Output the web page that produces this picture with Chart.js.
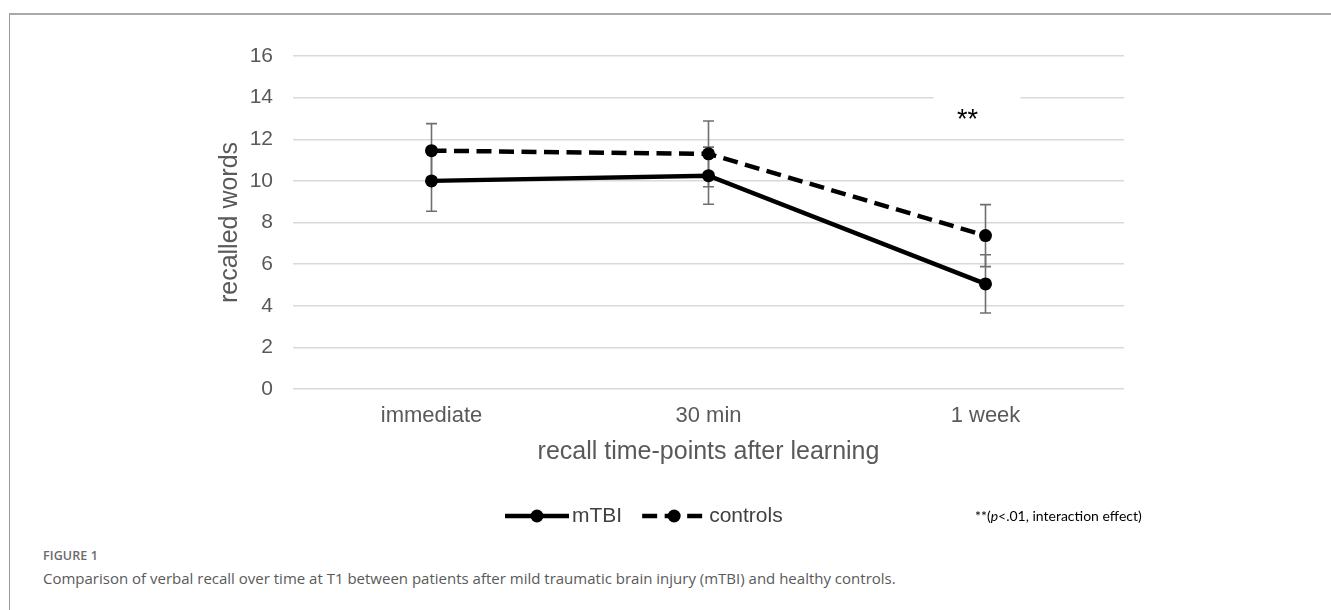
<!DOCTYPE html>
<html>
<head>
<meta charset="utf-8">
<script src="https://cdn.jsdelivr.net/npm/chart.js@4/dist/chart.umd.min.js"></script>
<style>
  html, body { margin: 0; padding: 0; background: #fff; }
  body { width: 1331px; height: 610px; position: relative; overflow: hidden; }
  #frame {
    position: absolute; left: 9px; top: 13px; width: 1322px; height: 597px;
    border-top: 2px solid #a9a9a9; border-left: 1px solid #9a9a9a; box-sizing: border-box;
  }
  #wrap { position: absolute; left: 0; top: 0; width: 1331px; height: 540px; }
  .fig-label {
    position: absolute; left: 43px; top: 547px; margin: 0;
    font-family: "Open Sans", "Noto Sans", sans-serif; font-weight: 600;
    font-size: 12.5px; color: #6a6a6a; letter-spacing: 0.1px;
  }
  .fig-caption {
    position: absolute; left: 43px; top: 568px; margin: 0;
    font-family: "Open Sans", "Noto Sans", sans-serif; font-weight: 400;
    font-size: 15px; color: #5a5a5a;
  }
</style>
</head>
<body>
<div id="frame"></div>
<div id="wrap"><canvas id="chart" width="1331" height="540"></canvas></div>
<p class="fig-label">FIGURE 1</p>
<p class="fig-caption">Comparison of verbal recall over time at T1 between patients after mild traumatic brain injury (mTBI) and healthy controls.</p>
<script>
// Recall time points (x categories)
const categories = ['immediate', '30 min', '1 week'];

// Mean recalled words and error bar half-widths per group
const mtbiMeans = [10.0, 10.25, 5.05];
const mtbiErrors = [1.46, 1.37, 1.40];
const controlMeans = [11.45, 11.3, 7.37];
const controlErrors = [1.30, 1.58, 1.49];

// Y axis range and step
const yMin = 0;
const yMax = 16;
const yStep = 2;

// Significance marker shown above the last time point
const sigMark = '**';
const sigMarkValue = 13.3;
const sigIndex = 2;

const AXIS_FONT = '"Liberation Sans", Arial, sans-serif';
const AXIS_GREY = '#595959';

// Vertical error bars with caps, drawn under the lines and markers
const errorBars = {
  id: 'errorBars',
  beforeDatasetsDraw(chart) {
    const ctx = chart.ctx;
    const y = chart.scales.y;
    ctx.save();
    ctx.strokeStyle = '#6f6f6f';
    ctx.lineWidth = 1.6;
    chart.data.datasets.forEach((ds, di) => {
      const meta = chart.getDatasetMeta(di);
      meta.data.forEach((pt, i) => {
        const m = ds.data[i];
        const e = ds.errors[i];
        const top = y.getPixelForValue(m + e);
        const bot = y.getPixelForValue(m - e);
        const x = pt.x;
        ctx.beginPath();
        ctx.moveTo(x, top); ctx.lineTo(x, bot);
        ctx.moveTo(x - 5.5, top); ctx.lineTo(x + 5.5, top);
        ctx.moveTo(x - 5.5, bot); ctx.lineTo(x + 5.5, bot);
        ctx.stroke();
      });
    });
    ctx.restore();
  }
};

// "**" text box over the grid near the last time point
const sigLabel = {
  id: 'sigLabel',
  beforeDatasetsDraw(chart) {
    const ctx = chart.ctx;
    const x = chart.scales.x.getPixelForValue(sigIndex) - 18;
    const yy = chart.scales.y.getPixelForValue(sigMarkValue);
    ctx.save();
    ctx.fillStyle = '#fff';
    ctx.fillRect(x - 34, yy - 22, 87, 40);
    ctx.fillStyle = '#000';
    ctx.font = '27px ' + AXIS_FONT;
    ctx.textAlign = 'center';
    ctx.textBaseline = 'alphabetic';
    ctx.fillText(sigMark, x, yy + 15.5);
    ctx.restore();
  }
};

// Legend with line samples and a centered marker, plus the note on significance
const lineLegend = {
  id: 'lineLegend',
  afterDraw(chart) {
    const ctx = chart.ctx;
    const cy = 516;
    let x = 505;
    ctx.save();
    chart.data.datasets.forEach((ds) => {
      const w = 64;
      ctx.strokeStyle = ds.borderColor;
      ctx.lineWidth = ds.borderWidth;
      ctx.setLineDash(ds.borderDash || []);
      ctx.lineDashOffset = 0;
      ctx.beginPath();
      ctx.moveTo(x, cy); ctx.lineTo(x + w, cy);
      ctx.stroke();
      ctx.setLineDash([]);
      ctx.fillStyle = ds.pointBackgroundColor;
      ctx.beginPath();
      ctx.arc(x + w / 2, cy, ds.pointRadius, 0, Math.PI * 2);
      ctx.fill();
      ctx.fillStyle = '#404040';
      ctx.font = '21px ' + AXIS_FONT;
      ctx.textAlign = 'left';
      ctx.textBaseline = 'middle';
      ctx.fillText(ds.label, x + w + 3, cy);
      x += w + 3 + ctx.measureText(ds.label).width + 20;
    });
    // note: **(p<.01, interaction effect)
    const parts = [
      { t: '**(', f: '14px Lato, "Noto Sans", sans-serif' },
      { t: 'p', f: 'italic 14px Lato, "Noto Sans", sans-serif' },
      { t: '<.01, interaction effect)', f: '14px Lato, "Noto Sans", sans-serif' }
    ];
    let nx = 975;
    ctx.fillStyle = '#000';
    ctx.textBaseline = 'middle';
    parts.forEach(p => {
      ctx.font = p.f;
      ctx.fillText(p.t, nx, cy);
      nx += ctx.measureText(p.t).width;
    });
    ctx.restore();
  }
};

new Chart(document.getElementById('chart'), {
  type: 'line',
  data: {
    labels: categories,
    datasets: [
      {
        label: 'mTBI',
        data: mtbiMeans,
        errors: mtbiErrors,
        borderColor: '#000',
        borderWidth: 4.5,
        pointRadius: 6.5,
        pointBackgroundColor: '#000',
        pointBorderWidth: 0,
        tension: 0,
        order: 2
      },
      {
        label: 'controls',
        data: controlMeans,
        errors: controlErrors,
        borderColor: '#000',
        borderWidth: 4.5,
        borderDash: [15, 7.5],
        pointRadius: 6.5,
        pointBackgroundColor: '#000',
        pointBorderWidth: 0,
        tension: 0,
        order: 1
      }
    ]
  },
  options: {
    responsive: false,
    animation: false,
    devicePixelRatio: 1,
    layout: { padding: { left: 190, right: 207, top: 56, bottom: 71 } },
    plugins: {
      legend: { display: false },
      tooltip: { enabled: false }
    },
    scales: {
      x: {
        offset: true,
        grid: { display: false, drawTicks: false },
        border: { display: false },
        ticks: { color: AXIS_GREY, font: { family: AXIS_FONT, size: 22 }, padding: 14 },
        title: {
          display: true, text: 'recall time-points after learning',
          color: AXIS_GREY, font: { family: AXIS_FONT, size: 25 }, padding: { top: 4, bottom: 2 }
        },
        afterFit(s) { s.height = 80; }
      },
      y: {
        min: yMin, max: yMax,
        grid: { color: '#d9d9d9', lineWidth: 1.5, drawTicks: false },
        border: { display: false },
        ticks: { stepSize: yStep, color: AXIS_GREY, font: { family: AXIS_FONT, size: 21 }, padding: 20 },
        title: {
          display: true, text: 'recalled words',
          color: AXIS_GREY, font: { family: AXIS_FONT, size: 25 }, padding: { top: 25, bottom: 0 }
        },
        afterFit(s) { s.width = 103; }
      }
    }
  },
  plugins: [errorBars, sigLabel, lineLegend]
});
</script>
</body>
</html>
